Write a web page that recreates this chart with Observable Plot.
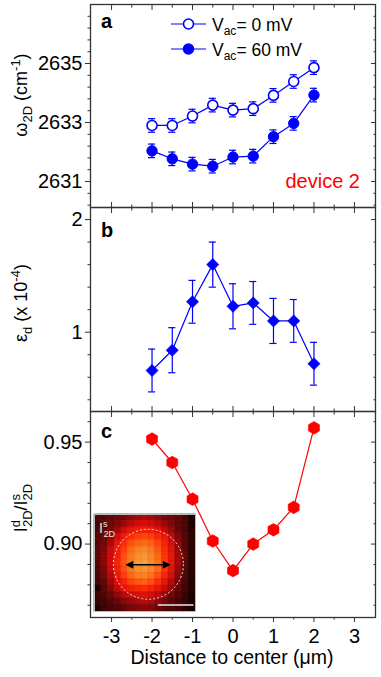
<!DOCTYPE html>
<html><head><meta charset="utf-8">
<script src="https://cdn.jsdelivr.net/npm/d3@7"></script>
<script src="https://cdn.jsdelivr.net/npm/@observablehq/plot@0.6"></script>
<style>
body{margin:0;background:#fff;}
#wrap{position:relative;width:381px;height:677px;overflow:hidden;font-family:"Liberation Sans",Arial,Helvetica,sans-serif;}
#wrap svg{display:block;overflow:visible;}
#inset{position:absolute;left:94px;top:514px;}
</style></head><body><div id="wrap"></div>
<script>
// ---------- data ----------
const distance = [-2, -1.5, -1, -0.5, 0, 0.5, 1, 1.5, 2];
const omegaVac0 = [2632.9, 2632.9, 2633.22, 2633.59, 2633.42, 2633.47, 2633.92, 2634.39, 2634.86];
const omegaVac0Err = [0.23, 0.23, 0.23, 0.23, 0.23, 0.23, 0.23, 0.23, 0.23];
const omegaVac60 = [2632.04, 2631.77, 2631.59, 2631.52, 2631.83, 2631.86, 2632.52, 2632.97, 2633.93];
const omegaVac60Err = [0.23, 0.23, 0.23, 0.23, 0.23, 0.23, 0.23, 0.23, 0.23];
const strain = [0.66, 0.84, 1.27, 1.60, 1.23, 1.26, 1.10, 1.10, 0.72];
const strainErr = [0.19, 0.20, 0.19, 0.20, 0.20, 0.19, 0.20, 0.19, 0.19];
const ratio = [0.9515, 0.940, 0.922, 0.9015, 0.887, 0.900, 0.907, 0.918, 0.957];

const xTicks = [-3, -2, -1, 0, 1, 2, 3];
const xMinorTicks = [-2.5, -1.5, -0.5, 0.5, 1.5, 2.5];
const omegaTicks = [2631, 2633, 2635];
const omegaMinorTicks = [2630.2, 2630.6, 2631.4, 2631.8, 2632.2, 2632.6, 2633.4, 2633.8, 2634.2, 2634.6, 2635.4, 2635.8, 2636.2, 2636.6];
const strainTicks = [1, 2];
const strainMinorTicks = [0.4, 0.6, 0.8, 1.2, 1.4, 1.6, 1.8];
const ratioTicks = [0.90, 0.95];
const ratioMinorTicks = [0.87, 0.88, 0.89, 0.91, 0.92, 0.93, 0.94, 0.96];

// inset: I2D map (relative intensity, 15 x 15 pixels, row 0 = top)
const insetImage = [
 [.20,.22,.25,.28,.30,.35,.40,.42,.40,.35,.30,.28,.25,.18,.05],
 [.18,.25,.28,.32,.38,.45,.50,.52,.50,.45,.38,.32,.25,.20,.05],
 [.20,.25,.30,.40,.50,.58,.62,.64,.62,.56,.48,.38,.28,.20,.08],
 [.22,.28,.36,.50,.62,.70,.74,.76,.74,.68,.60,.46,.32,.22,.10],
 [.22,.30,.42,.58,.70,.78,.82,.84,.82,.76,.66,.52,.36,.24,.10],
 [.24,.32,.48,.62,.74,.84,.90,.92,.88,.80,.70,.56,.38,.24,.08],
 [.24,.34,.50,.64,.78,.88,.95,.97,.92,.84,.72,.58,.40,.26,.10],
 [.22,.34,.50,.66,.80,.90,.98,1.0,.94,.86,.74,.58,.40,.24,.08],
 [.20,.32,.48,.64,.78,.88,.95,.96,.92,.84,.72,.56,.38,.22,.10],
 [.18,.30,.44,.60,.74,.84,.90,.90,.86,.78,.66,.52,.34,.20,.08],
 [.16,.26,.40,.54,.66,.76,.80,.82,.78,.70,.58,.44,.30,.18,.06],
 [.02,.22,.34,.46,.56,.64,.68,.70,.66,.58,.48,.36,.26,.16,.06],
 [.14,.20,.28,.36,.44,.50,.54,.56,.52,.46,.38,.30,.22,.14,.05],
 [.12,.16,.22,.28,.34,.38,.42,.44,.42,.36,.30,.24,.18,.12,.04],
 [.02,.14,.18,.22,.26,.30,.32,.34,.32,.28,.24,.20,.16,.10,.03]
];
const insetGrid = [1, 2, 3, 4, 5, 6, 7, 8, 9, 10, 11, 12, 13, 14];
const insetCircle = [{cx: 8.0, cy: 7.7}];
const insetArrow = {x1: 4.65, x2: 11.4, y: 7.84};
const insetScaleBar = [{x1: 9.4, x2: 14.7, y: 14.0}];

// ---------- style ----------
const FONT = '"Liberation Sans", Arial, Helvetica, sans-serif';
const BLUE = "#0000ff", RED = "#ff0000", FRAME = "#333";
const W = 381, ML = 90, MR = 6;
const xDomain = [-3.52, 3.52];
const CAP = 0.088;
const wrap = document.getElementById("wrap");
const blank = () => "";

function frameAxes(yMajor, yMinor, fmt, bottomLabels) {
  const m = [
    Plot.axisY({ticks: yMajor, anchor: "left", tickSize: 5, tickPadding: 3, tickFormat: fmt, label: null, stroke: FRAME}),
    Plot.axisY({ticks: yMinor, anchor: "left", tickSize: 2.5, tickFormat: blank, label: null, stroke: FRAME}),
    Plot.axisY({ticks: yMajor, anchor: "right", tickSize: 5, dx: -5, tickFormat: blank, label: null, stroke: FRAME}),
    Plot.axisY({ticks: yMinor, anchor: "right", tickSize: 2.5, dx: -2.5, tickFormat: blank, label: null, stroke: FRAME}),
    Plot.axisX({ticks: xTicks, anchor: "top", tickSize: 5, dy: 5, tickFormat: blank, label: null, stroke: FRAME}),
    Plot.axisX({ticks: xMinorTicks, anchor: "top", tickSize: 2.5, dy: 2.5, tickFormat: blank, label: null, stroke: FRAME})
  ];
  if (bottomLabels) {
    m.push(Plot.axisX({ticks: xTicks, anchor: "bottom", tickSize: 5, tickPadding: 6, tickFormat: d => String(d), label: null, stroke: FRAME}));
    m.push(Plot.axisX({ticks: xMinorTicks, anchor: "bottom", tickSize: 2.5, tickFormat: blank, label: null, stroke: FRAME}));
  } else {
    m.push(Plot.axisX({ticks: xTicks, anchor: "bottom", tickSize: 5, dy: -5, tickFormat: blank, label: null, stroke: FRAME}));
    m.push(Plot.axisX({ticks: xMinorTicks, anchor: "bottom", tickSize: 2.5, dy: -2.5, tickFormat: blank, label: null, stroke: FRAME}));
  }
  m.push(Plot.frame({stroke: FRAME, strokeWidth: 1.3}));
  return m;
}
const baseStyle = {fontFamily: FONT, fontSize: "20px", background: "none", overflow: "visible", color: "#000"};

function errorMarks(data, y, e, color) {
  return [
    Plot.ruleX(data, {x: "x", y1: d => d[y] - d[e], y2: d => d[y] + d[e], stroke: color, strokeWidth: 1.2}),
    Plot.ruleY(data, {y: d => d[y] + d[e], x1: d => d.x - CAP, x2: d => d.x + CAP, stroke: color, strokeWidth: 1.2}),
    Plot.ruleY(data, {y: d => d[y] - d[e], x1: d => d.x - CAP, x2: d => d.x + CAP, stroke: color, strokeWidth: 1.2})
  ];
}

// helper for SVG text with tspans
function addText(svg, x, y, parts, {size = 18, anchor = "start", rotate = 0, weight = "normal", fill = "#000"} = {}) {
  const t = d3.select(svg).append("text")
    .attr("transform", `translate(${x},${y}) rotate(${rotate})`)
    .attr("text-anchor", anchor).attr("font-family", FONT).attr("font-size", size)
    .attr("font-weight", weight).attr("fill", fill).attr("stroke", "none");
  for (const p of parts) {
    const s = t.append("tspan").text(p.t);
    if (p.size) s.attr("font-size", p.size);
    if (p.dy) s.attr("dy", p.dy);
    if (p.dx) s.attr("dx", p.dx);
  }
  return t;
}

// ---------- panel a ----------
const aData = distance.map((x, i) => ({x, y0: omegaVac0[i], e0: omegaVac0Err[i], y60: omegaVac60[i], e60: omegaVac60Err[i]}));
const pa = Plot.plot({
  width: W, height: 207, marginLeft: ML, marginRight: MR, marginTop: 4, marginBottom: 0,
  style: baseStyle,
  x: {domain: xDomain},
  y: {domain: [2630.12, 2637]},
  marks: [
    ...frameAxes(omegaTicks, omegaMinorTicks, d => String(d), false),
    Plot.line(aData, {x: "x", y: "y0", stroke: BLUE, strokeWidth: 1.2}),
    Plot.line(aData, {x: "x", y: "y60", stroke: BLUE, strokeWidth: 1.2}),
    ...errorMarks(aData, "y0", "e0", BLUE),
    ...errorMarks(aData, "y60", "e60", BLUE),
    Plot.dot(aData, {x: "x", y: "y0", r: 5, fill: "white", stroke: BLUE, strokeWidth: 1.6}),
    Plot.dot(aData, {x: "x", y: "y60", r: 5.2, fill: BLUE, stroke: BLUE, strokeWidth: 1})
  ]
});
wrap.appendChild(pa);
addText(pa, 101, 28, [{t: "a"}], {size: 20, weight: "bold"});
addText(pa, 360, 188, [{t: "device 2"}], {size: 20, anchor: "end", fill: RED});
addText(pa, 27, 95, [{t: "ω"}, {t: "2D", size: 13, dy: 5}, {t: " (cm", dy: -5}, {t: "-1", size: 13, dy: -7}, {t: ")", dy: 7}], {size: 18, anchor: "middle", rotate: -90});
// legend
{
  const g = d3.select(pa).append("g");
  const rows = [{y: 24, open: true, label: "0 mV"}, {y: 49, open: false, label: "60 mV"}];
  for (const r of rows) {
    g.append("line").attr("x1", 171).attr("x2", 206).attr("y1", r.y).attr("y2", r.y).attr("stroke", BLUE).attr("stroke-width", 1.2);
    g.append("circle").attr("cx", 188.5).attr("cy", r.y).attr("r", 5)
      .attr("fill", r.open ? "white" : BLUE).attr("stroke", BLUE).attr("stroke-width", 1.6);
    addText(pa, 212, r.y + 6.5, [{t: "V"}, {t: "ac", size: 12, dy: 4}, {t: "= " + r.label, dy: -4}], {size: 17.5});
  }
}

// ---------- panel b ----------
const bData = distance.map((x, i) => ({x, s: strain[i], e: strainErr[i]}));
const pb = Plot.plot({
  width: W, height: 204, marginLeft: ML, marginRight: MR, marginTop: 0, marginBottom: 0,
  style: baseStyle,
  x: {domain: xDomain},
  y: {domain: [0.296, 2.107]},
  marks: [
    ...frameAxes(strainTicks, strainMinorTicks, d => String(d), false),
    Plot.line(bData, {x: "x", y: "s", stroke: BLUE, strokeWidth: 1.2}),
    ...errorMarks(bData, "s", "e", BLUE),
    Plot.dot(bData, {x: "x", y: "s", r: 5.4, symbol: "diamond2", fill: BLUE, stroke: BLUE, strokeWidth: 0.8})
  ]
});
wrap.appendChild(pb);
addText(pb, 101, 30, [{t: "b"}], {size: 20, weight: "bold"});
addText(pb, 27, 96, [{t: "ε"}, {t: "d", size: 13, dy: 5}, {t: " (x 10", dy: -5}, {t: "-4", size: 13, dy: -7}, {t: ")", dy: 7}], {size: 18, anchor: "middle", rotate: -90});

// ---------- panel c ----------
const cData = distance.map((x, i) => ({x, r: ratio[i]}));
const pc = Plot.plot({
  width: W, height: 266, marginLeft: ML, marginRight: MR, marginTop: 0, marginBottom: 60,
  style: baseStyle,
  x: {domain: xDomain},
  y: {domain: [0.864, 0.965]},
  marks: [
    ...frameAxes(ratioTicks, ratioMinorTicks, d3.format(".2f"), true),
    Plot.line(cData, {x: "x", y: "r", stroke: RED, strokeWidth: 1.2}),
    Plot.dot(cData, {x: "x", y: "r", r: 5.5, symbol: "hexagon", fill: RED, stroke: RED, strokeWidth: 0.6})
  ]
});
wrap.appendChild(pc);
addText(pc, 101, 27, [{t: "c"}], {size: 20, weight: "bold"});
addText(pc, 232, 253, [{t: "Distance to center (μm)"}], {size: 19.5, anchor: "middle"});
addText(pc, 27, 97, [
  {t: "I"}, {t: "d", size: 13, dy: -7}, {t: "2D", size: 13, dy: 12, dx: -7.2},
  {t: "/I", dy: -5}, {t: "s", size: 13, dy: -7}, {t: "2D", size: 13, dy: 12, dx: -6.5}
], {size: 18, anchor: "middle", rotate: -90});

// ---------- inset ----------
const cells = insetImage.flatMap((row, r) => row.map((v, c) => ({r, c, v})));
const pi = Plot.plot({
  width: 101, height: 97, margin: 0,
  style: {background: "none", overflow: "visible"},
  x: {domain: [0, 15], axis: null},
  y: {domain: [0, 15], reverse: true, axis: null},
  color: {type: "linear", domain: [0, 0.25, 0.5, 0.7, 0.85, 1],
          range: ["#100000", "#5e0606", "#d40a0a", "#ff2a08", "#ff6e14", "#f7a040"]},
  marks: [
    Plot.rect(cells, {x1: "c", x2: d => d.c + 1, y1: "r", y2: d => d.r + 1, fill: "v", stroke: "v", strokeWidth: 0.6}),
    Plot.ruleX(insetGrid, {x: d => d, stroke: "rgba(0,0,0,0.10)", strokeWidth: 0.6}),
    Plot.ruleY(insetGrid, {y: d => d, stroke: "rgba(0,0,0,0.10)", strokeWidth: 0.6}),
    Plot.dot(insetCircle, {x: "cx", y: "cy", r: 35, fill: "none", stroke: "#f2e6e0", strokeWidth: 1, strokeDasharray: "2,2"}),
    Plot.link(insetScaleBar, {x1: "x1", x2: "x2", y1: "y", y2: "y", stroke: "#e8e8e8", strokeWidth: 1.6}),
    Plot.frame({stroke: "#bbb", strokeWidth: 1})
  ]
});
pi.id = "inset";
wrap.appendChild(pi);
{
  const sx = pi.scale("x"), sy = pi.scale("y");
  const x1 = sx.apply(insetArrow.x1), x2 = sx.apply(insetArrow.x2), y = sy.apply(insetArrow.y);
  const g = d3.select(pi).append("g");
  g.append("line").attr("x1", x1 + 5).attr("x2", x2 - 5).attr("y1", y).attr("y2", y).attr("stroke", "#000").attr("stroke-width", 1.5);
  g.append("path").attr("d", `M${x1},${y}L${x1 + 8},${y - 4}L${x1 + 8},${y + 4}Z`).attr("fill", "#000");
  g.append("path").attr("d", `M${x2},${y}L${x2 - 8},${y - 4}L${x2 - 8},${y + 4}Z`).attr("fill", "#000");
  addText(pi, 5, 19, [{t: "I"}, {t: "s", size: 9, dy: -6}, {t: "2D", size: 9, dy: 10, dx: -4}], {size: 14, fill: "#e6e6e6"});
}
</script></body></html>
